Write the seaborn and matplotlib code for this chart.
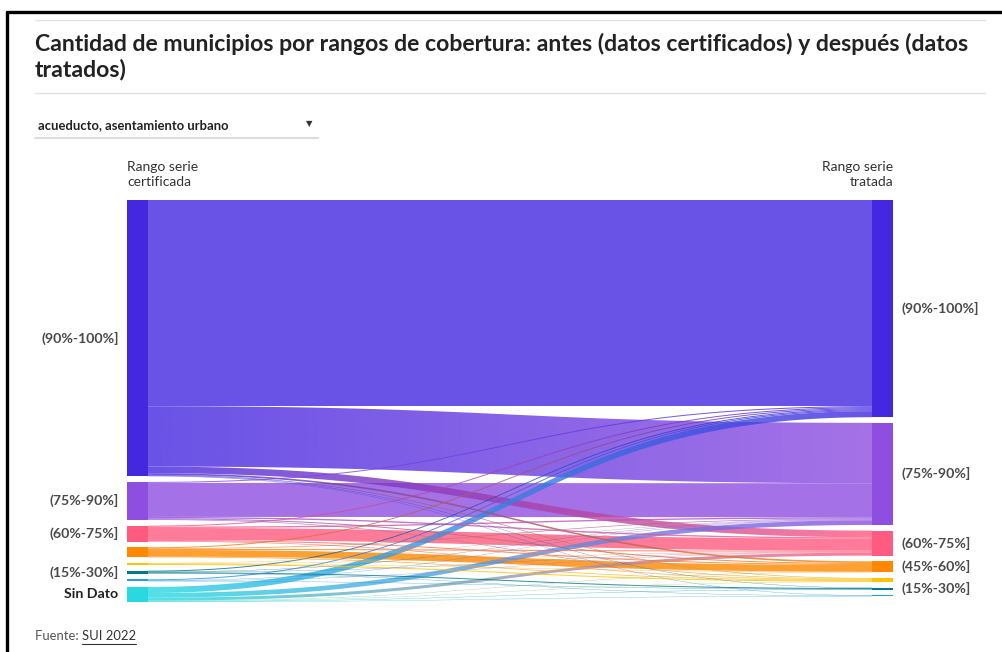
import numpy as np
import matplotlib
matplotlib.use("Agg")
import matplotlib.pyplot as plt
from matplotlib.path import Path
from matplotlib.patches import PathPatch, Rectangle
from matplotlib.lines import Line2D
import seaborn as sns

# rangos de cobertura (mismo orden en ambas columnas)
rangos_cert = ["(90%-100%]", "(75%-90%]", "(60%-75%]", "(45%-60%]",
               "(30%-45%]", "(15%-30%]", "(0%-15%]", "Sin Dato"]
rangos_trat = ["(90%-100%]", "(75%-90%]", "(60%-75%]", "(45%-60%]",
               "(30%-45%]", "(15%-30%]", "(0%-15%]"]
colores = {"(90%-100%]": "#4428E0", "(75%-90%]": "#8E4FE0", "(60%-75%]": "#FF5A80",
           "(45%-60%]": "#FF8800", "(30%-45%]": "#FFC200", "(15%-30%]": "#00798A",
           "(0%-15%]": "#1F9EE8", "Sin Dato": "#29D9E2"}

# municipios: filas = rango serie certificada, columnas = rango serie tratada
flujos = [
    [618, 181, 20, 5, 2, 1, 1],
    [3, 102, 4, 3, 2, 0, 0],
    [3, 4, 36, 3, 2, 0, 0],
    [3, 2, 3, 20, 2, 0, 0],
    [0, 1, 1, 1, 3, 0, 0],
    [3, 1, 1, 0, 0, 3, 1],
    [3, 1, 1, 0, 0, 1, 0],
    [18, 14, 9, 1, 1, 1, 1],
]

# etiquetas visibles en cada lado
etiq_izq = ["(90%-100%]", "(75%-90%]", "(60%-75%]", "(15%-30%]", "Sin Dato"]
etiq_der = ["(90%-100%]", "(75%-90%]", "(60%-75%]", "(45%-60%]", "(15%-30%]"]

flujos = np.array(flujos, dtype=float)
tot_izq = flujos.sum(axis=1)
tot_der = flujos.sum(axis=0)
pad = 17.0
ancho = 0.0274

sns.set_theme(style="white")
plt.rcParams["font.family"] = ["Lato", "DejaVu Sans"]

W, H = 1002, 652
fig = plt.figure(figsize=(W / 100, H / 100), dpi=100)
fig.patch.set_facecolor("white")


def fx(px):
    return px / W


def fy(py):
    return 1 - py / H


ax = fig.add_axes([fx(127), fy(602), fx(893) - fx(127), fy(200) - fy(602)])
ax.set_axis_off()
alto = tot_izq.sum() + pad * (len(tot_izq) - 1)

# posicion de nodos
y_izq = np.concatenate([[0], np.cumsum(tot_izq + pad)[:-1]])
y_der = np.concatenate([[0], np.cumsum(tot_der + pad)[:-1]])

# enlaces con degradado
t = np.linspace(0, 1, 80)
x0, x1 = ancho, 1 - ancho
xm = (x0 + x1) / 2
bx = (1 - t) ** 3 * x0 + 3 * (1 - t) ** 2 * t * xm + 3 * (1 - t) * t ** 2 * xm + t ** 3 * x1


def by(ya, yb):
    return (1 - t) ** 3 * ya + 3 * (1 - t) ** 2 * t * ya + 3 * (1 - t) * t ** 2 * yb + t ** 3 * yb


sal = y_izq.copy()
enlaces = []
for i in range(len(rangos_cert)):
    for j in range(len(rangos_trat)):
        v = flujos[i, j]
        if v <= 0:
            continue
        enlaces.append((i, j, sal[i], v))
        sal[i] += v
# posiciones de entrada: ordenadas por origen
ent = y_der.copy()
pos_ent = {}
for i, j, ys, v in sorted(enlaces, key=lambda e: (e[1], e[0])):
    pos_ent[(i, j)] = ent[j]
    ent[j] += v

for i, j, ys, v in sorted(enlaces, key=lambda e: -e[3]):
    yt = pos_ent[(i, j)]
    top = by(ys, yt)
    bot = by(ys + v, yt + v)
    verts = np.concatenate([np.column_stack([bx, top]), np.column_stack([bx[::-1], bot[::-1]]),
                            [[bx[0], top[0]]]])
    codes = [Path.MOVETO] + [Path.LINETO] * (len(verts) - 2) + [Path.CLOSEPOLY]
    patch = PathPatch(Path(verts, codes), facecolor="none", edgecolor="none")
    ax.add_patch(patch)
    grad = np.array(sns.blend_palette([colores[rangos_cert[i]], colores[rangos_trat[j]]], n_colors=100))
    img = np.concatenate([grad[:, :3], np.full((100, 1), 0.8)], axis=1)[None, :, :]
    im = ax.imshow(img, extent=[x0, x1, max(ys, yt) + v + 1, min(ys, yt) - 1],
                   aspect="auto", interpolation="bilinear", zorder=1)
    im.set_clip_path(patch)

# nodos
for k, r in enumerate(rangos_cert):
    ax.add_patch(Rectangle((0, y_izq[k]), ancho, tot_izq[k], color=colores[r], lw=0, zorder=3))
for k, r in enumerate(rangos_trat):
    ax.add_patch(Rectangle((1 - ancho, y_der[k]), ancho, tot_der[k], color=colores[r], lw=0, zorder=3))

ax.set_xlim(0, 1)
ax.set_ylim(alto, 0)

fs_lab = 10.2
for k, r in enumerate(rangos_cert):
    if r in etiq_izq:
        ax.text(-0.011, y_izq[k] + tot_izq[k] / 2, r, ha="right", va="center", fontsize=fs_lab,
                fontweight="bold", color="#222222" if r == "Sin Dato" else "#4a4a4a")
for k, r in enumerate(rangos_trat):
    if r in etiq_der:
        ax.text(1.011, y_der[k] + tot_der[k] / 2, r, ha="left", va="center", fontsize=fs_lab,
                fontweight="bold", color="#4a4a4a")

# encabezados de columnas
fig.text(fx(127), fy(161), "Rango serie\ncertificada", ha="left", va="top", fontsize=10,
         color="#333333", linespacing=1.25)
fig.text(fx(893), fy(161), "Rango serie\ntratada", ha="right", va="top", fontsize=10,
         color="#333333", linespacing=1.25, multialignment="right")

# titulo y controles
fig.text(fx(35), fy(33), "Cantidad de municipios por rangos de cobertura: antes (datos certificados) y después (datos\ntratados)",
         ha="left", va="top", fontsize=16.6, fontweight="bold", color="#222222", linespacing=1.2)
fig.add_artist(Line2D([fx(35), fx(985)], [fy(20), fy(20)], color="#e3e3e3", lw=1))
fig.add_artist(Line2D([fx(35), fx(985)], [fy(93), fy(93)], color="#e3e3e3", lw=1))
fig.text(fx(38), fy(125), "acueducto, asentamiento urbano", ha="left", va="center", fontsize=9.4,
         fontweight="bold", color="#222222")
fig.text(fx(309), fy(124), "▼", ha="center", va="center", fontsize=6, color="#333333",
         family="DejaVu Sans")
fig.add_artist(Line2D([fx(35), fx(318)], [fy(138), fy(138)], color="#dddddd", lw=1.5))

# marco
fig.add_artist(Line2D([fx(7), fx(1002)], [fy(12), fy(12)], color="black", lw=2.4))
fig.add_artist(Line2D([fx(7), fx(7)], [fy(12), fy(652)], color="black", lw=2.4))

# fuente
t1 = fig.text(fx(35), fy(636), "Fuente: ", ha="left", va="center", fontsize=9.4, color="#555555")
fig.canvas.draw()
bb = t1.get_window_extent()
t2 = fig.text(bb.x1 / W, fy(636), "SUI 2022", ha="left", va="center", fontsize=9.4, color="#333333")
fig.canvas.draw()
bb2 = t2.get_window_extent()
fig.add_artist(Line2D([bb2.x0 / W, bb2.x1 / W], [(bb2.y0 - 1.5) / H] * 2, color="#333333", lw=0.8))

fig.savefig("out.png", dpi=100, facecolor="white")
